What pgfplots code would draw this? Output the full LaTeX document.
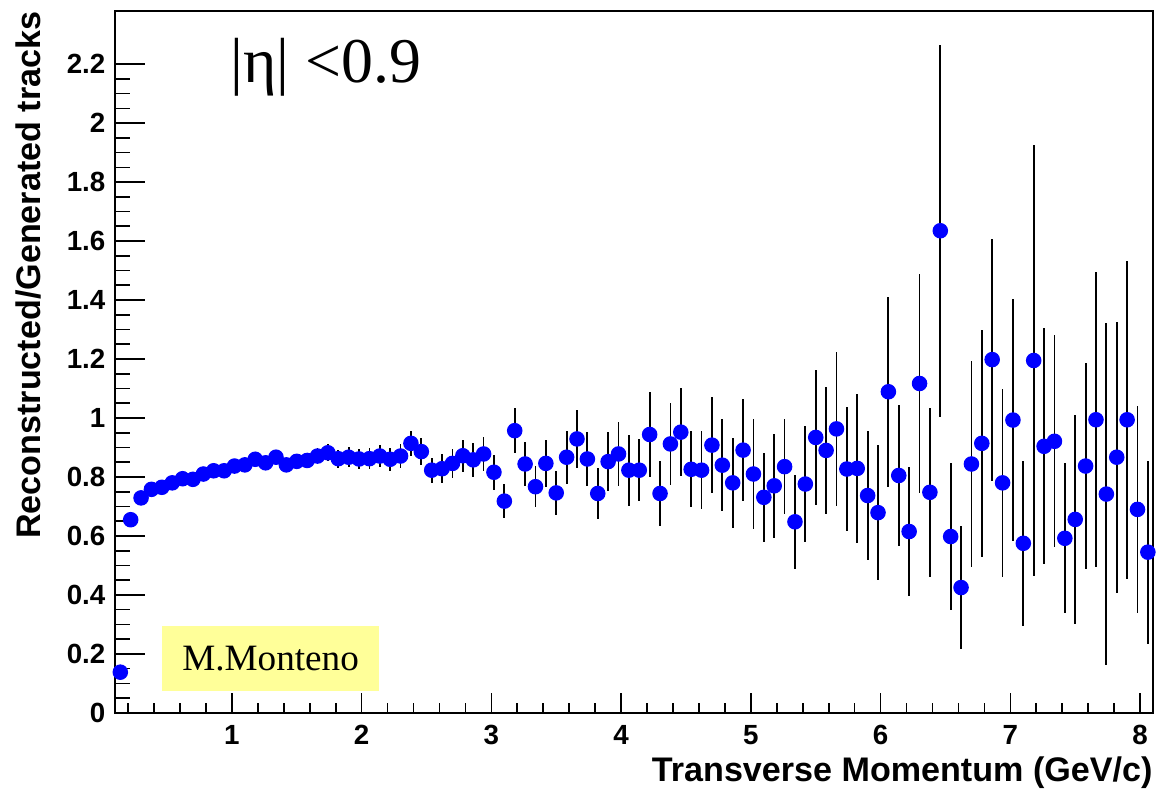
\documentclass[border=0pt]{standalone}
\usepackage{fontspec}
\setmainfont{Liberation Sans}
\newfontfamily\timesfont{Liberation Serif}
\usepackage{pgfplots}
\usepackage{pgfplotstable}
\pgfplotsset{compat=1.18}
\definecolor{rootblue}{RGB}{0,0,255}
\definecolor{boxyellow}{RGB}{255,255,153}

% pt bin centre, ratio, stat. error
\pgfplotstableread{
x y ey
0.14 0.138 0.005
0.22 0.655 0.006
0.30 0.729 0.007
0.38 0.758 0.008
0.46 0.765 0.009
0.54 0.780 0.010
0.62 0.794 0.011
0.70 0.792 0.012
0.78 0.810 0.013
0.86 0.821 0.014
0.94 0.821 0.015
1.02 0.837 0.016
1.10 0.841 0.017
1.18 0.860 0.018
1.26 0.848 0.019
1.34 0.867 0.020
1.42 0.841 0.021
1.50 0.853 0.023
1.58 0.856 0.025
1.66 0.871 0.027
1.74 0.882 0.029
1.82 0.862 0.031
1.90 0.867 0.033
1.98 0.861 0.034
2.06 0.862 0.035
2.14 0.871 0.037
2.22 0.860 0.039
2.30 0.871 0.041
2.38 0.914 0.043
2.46 0.886 0.046
2.54 0.823 0.043
2.62 0.828 0.050
2.70 0.846 0.048
2.78 0.872 0.055
2.86 0.858 0.058
2.94 0.878 0.059
3.02 0.816 0.059
3.10 0.718 0.058
3.18 0.957 0.076
3.26 0.844 0.073
3.34 0.767 0.070
3.42 0.846 0.079
3.50 0.746 0.074
3.58 0.867 0.090
3.66 0.929 0.098
3.74 0.861 0.093
3.82 0.744 0.086
3.90 0.852 0.100
3.98 0.878 0.109
4.06 0.823 0.120
4.14 0.823 0.106
4.22 0.944 0.144
4.30 0.744 0.109
4.38 0.912 0.139
4.46 0.952 0.149
4.54 0.826 0.129
4.62 0.823 0.132
4.70 0.908 0.163
4.78 0.840 0.156
4.86 0.780 0.153
4.94 0.891 0.174
5.02 0.810 0.186
5.10 0.731 0.151
5.18 0.770 0.176
5.26 0.835 0.160
5.34 0.648 0.160
5.42 0.776 0.196
5.50 0.934 0.230
5.58 0.890 0.215
5.66 0.963 0.262
5.74 0.827 0.210
5.82 0.829 0.253
5.90 0.737 0.220
5.98 0.679 0.229
6.06 1.089 0.323
6.14 0.805 0.239
6.22 0.615 0.219
6.30 1.117 0.370
6.38 0.748 0.287
6.46 1.635 0.630
6.54 0.598 0.250
6.62 0.425 0.210
6.70 0.844 0.348
6.78 0.914 0.385
6.86 1.198 0.410
6.94 0.780 0.320
7.02 0.993 0.410
7.10 0.575 0.280
7.18 1.195 0.730
7.26 0.904 0.400
7.34 0.921 0.360
7.42 0.592 0.255
7.50 0.656 0.354
7.58 0.837 0.350
7.66 0.994 0.500
7.74 0.742 0.580
7.82 0.867 0.460
7.90 0.994 0.540
7.98 0.690 0.350
8.06 0.545 0.310
}\effdata

\begin{document}
\begin{tikzpicture}
\begin{axis}[
    at={(0,0)}, anchor=south west,
    scale only axis, width=374.2pt, height=253pt,
    xmin=0.1, xmax=8.1, ymin=0, ymax=2.38,
    xtick={1,2,3,4,5,6,7,8},
    minor xtick={0.2,0.4,0.6,0.8,1.2,1.4,1.6,1.8,2.2,2.4,2.6,2.8,3.2,3.4,3.6,3.8,
                 4.2,4.4,4.6,4.8,5.2,5.4,5.6,5.8,6.2,6.4,6.6,6.8,7.2,7.4,7.6,7.8},
    ytick={0,0.2,0.4,0.6,0.8,1,1.2,1.4,1.6,1.8,2,2.2},
    yticklabels={0,0.2,0.4,0.6,0.8,1,1.2,1.4,1.6,1.8,2,2.2},
    minor y tick num=3,
    xtick pos=bottom, ytick pos=left,
    tick align=inside,
    xtick style={/pgfplots/major tick length=7.2pt,/pgfplots/minor tick length=3.6pt},
    ytick style={/pgfplots/major tick length=10.8pt,/pgfplots/minor tick length=5.4pt},
    tick style={black,line width=0.6pt},
    axis line style={line width=0.6pt},
    /pgf/number format/assume math mode=true,
    ticklabel style={font=\bfseries\fontsize{10}{12}\selectfont},
    xticklabel style={yshift=-1pt},
    xlabel={Transverse Momentum (GeV/c)},
    ylabel={Reconstructed/Generated tracks},
    label style={font=\bfseries\fontsize{12.3}{14}\selectfont,inner sep=0pt},
    xlabel style={at={(axis description cs:1,-0.0855)},anchor=east},
    ylabel style={at={(axis description cs:-0.083,1)},anchor=east},
    clip=false,
]
  \fill[boxyellow] (rel axis cs:0.0452,0.0312) rectangle (rel axis cs:0.2544,0.1241);
  \node[font=\timesfont\fontsize{13.4}{15}\selectfont] at (rel axis cs:0.1498,0.0776) {M.Monteno};
  \node[font=\timesfont\fontsize{23}{26}\selectfont,anchor=base west,inner sep=0pt]
     at (rel axis cs:0.1109,0.8977) {|η| <0.9};

  % error bars first, markers on top
  \addplot[draw=none,forget plot,
           error bars/.cd, y dir=both, y explicit, error mark=none,
           error bar style={black,line width=0.65pt}]
    table[x=x,y=y,y error=ey] {\effdata};
  \addplot[only marks,mark=*,mark size=2.6pt,
           mark options={fill=rootblue,draw=rootblue}]
    table[x=x,y=y] {\effdata};
\end{axis}
\pgfresetboundingbox
\path[use as bounding box]
  ([xshift=-41.5pt,yshift=-27.8pt]current axis.south west)
  rectangle ([xshift=4.3pt,yshift=4pt]current axis.north east);
\end{tikzpicture}
\end{document}
